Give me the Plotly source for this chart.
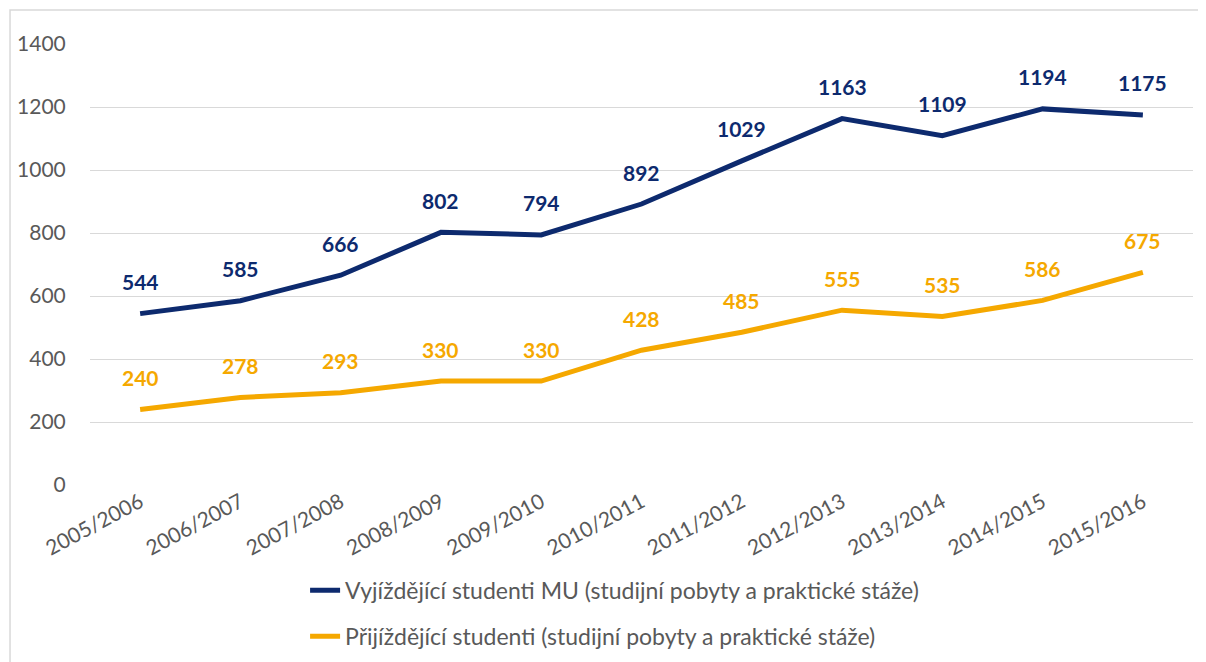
import plotly.graph_objects as go

years = ["2005/2006", "2006/2007", "2007/2008", "2008/2009", "2009/2010", "2010/2011",
         "2011/2012", "2012/2013", "2013/2014", "2014/2015", "2015/2016"]
outgoing = [544, 585, 666, 802, 794, 892, 1029, 1163, 1109, 1194, 1175]
incoming = [240, 278, 293, 330, 330, 428, 485, 555, 535, 586, 675]
name_out = "Vyjíždějící studenti MU (studijní pobyty a praktické stáže)"
name_in = "Přijíždějící studenti (studijní pobyty a praktické stáže)"

NAVY = "#0D2A6E"
ORANGE = "#F5A800"
GRAY = "#595959"
FONT = "Lato, 'Open Sans', sans-serif"

fig = go.Figure()
fig.add_trace(go.Scatter(x=years, y=outgoing, mode="lines", name=name_out,
                         line=dict(color=NAVY, width=5), legendgroup="a"))
fig.add_trace(go.Scatter(x=years, y=incoming, mode="lines", name=name_in,
                         line=dict(color=ORANGE, width=5), legendgroup="b"))

for series, color in ((outgoing, NAVY), (incoming, ORANGE)):
    for xv, yv in zip(years, series):
        fig.add_annotation(x=xv, y=yv, text=f"<b>{yv}</b>", showarrow=False,
                           yshift=32, font=dict(color=color, size=21, family=FONT))

fig.add_shape(type="rect", xref="paper", yref="paper",
              x0=-0.0725, x1=1.009, y0=-0.45, y1=1.077,
              line=dict(color="#D9D9D9", width=1.5), fillcolor="rgba(0,0,0,0)", layer="below")

fig.update_layout(
    width=1206, height=662,
    margin=dict(l=82, r=21, t=36, b=185, autoexpand=False),
    paper_bgcolor="white", plot_bgcolor="white",
    font=dict(family=FONT, color=GRAY, size=21),
    showlegend=True,
    legend=dict(orientation="v", x=0.195, y=-0.19, xanchor="left", yanchor="top",
                font=dict(size=23, color=GRAY, family=FONT), tracegroupgap=13,
                bgcolor="rgba(0,0,0,0)"),
    xaxis=dict(showgrid=False, showline=False, zeroline=False, tickangle=-28,
               range=[-0.5, 10.5], automargin=False,
               tickfont=dict(size=21, color=GRAY), ticks=""),
    yaxis=dict(range=[0, 1400], dtick=200, showgrid=True, gridcolor="#D9D9D9",
               gridwidth=1.3, zeroline=False, showline=False, automargin=False,
               tickfont=dict(size=21, color=GRAY), ticks="outside", ticklen=19,
               tickcolor="rgba(0,0,0,0)"),
)

fig.write_html("out.html")
